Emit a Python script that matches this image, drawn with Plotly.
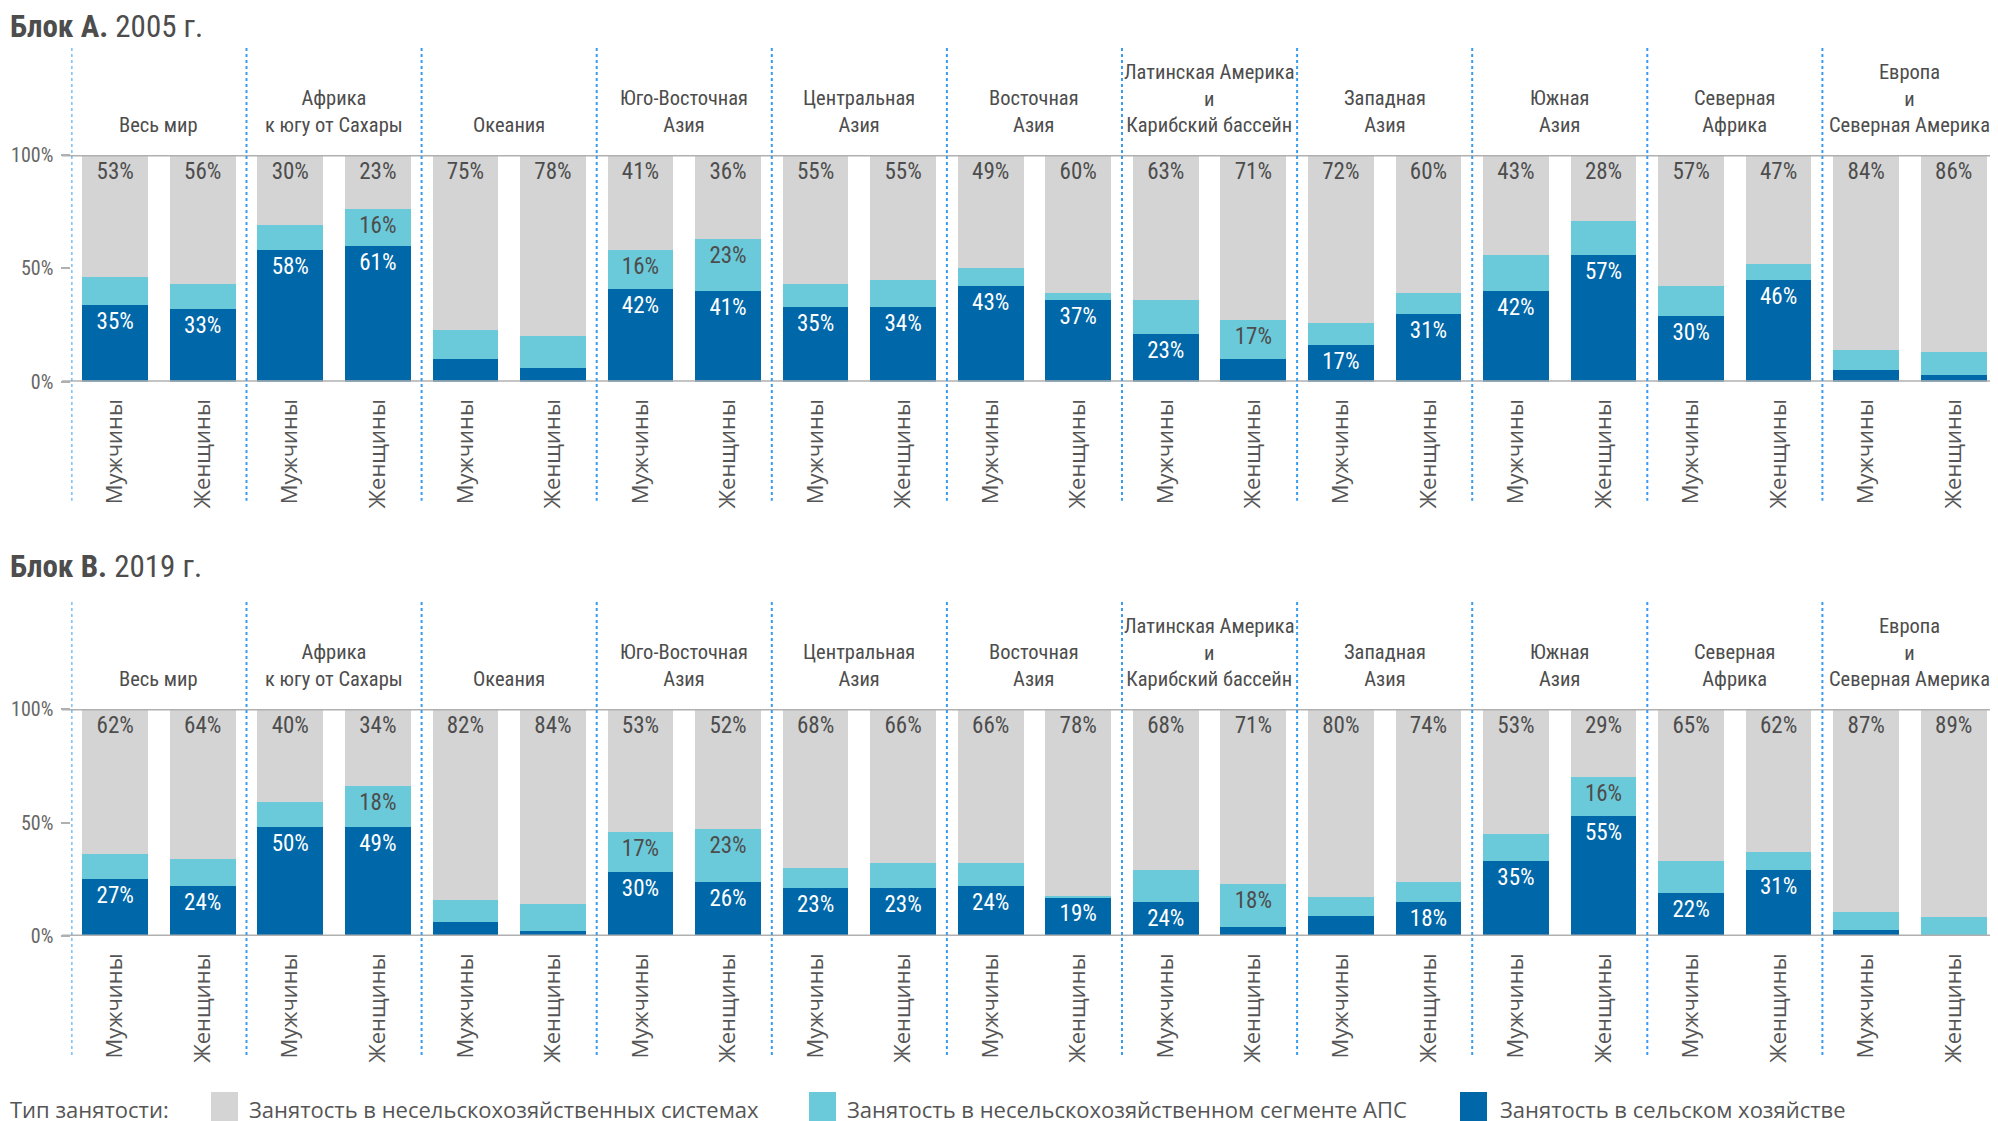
import plotly.graph_objects as go

# ---------------- data ----------------
regions = ["Весь мир", "Африка\nк югу от Сахары", "Океания", "Юго-Восточная\nАзия",
           "Центральная\nАзия", "Восточная\nАзия", "Латинская Америка\nи\nКарибский бассейн",
           "Западная\nАзия", "Южная\nАзия", "Северная\nАфрика", "Европа\nи\nСеверная Америка"]
sexes = ["Мужчины", "Женщины"]

series_names = ["Занятость в несельскохозяйственных системах",
                "Занятость в несельскохозяйственном сегменте АПС",
                "Занятость в сельском хозяйстве"]

# Block A, 2005 (bar heights, %; order: region x [men, women])
agri_2005 = [34, 32, 58, 60, 10, 6, 41, 40, 33, 33, 42, 36, 21, 10, 16, 30, 40, 56, 29, 45, 5, 3]
afs_2005 = [12, 11, 11, 16, 13, 14, 17, 23, 10, 12, 8, 3, 15, 17, 10, 9, 16, 15, 13, 7, 9, 10]
nonagri_2005 = [54, 57, 31, 24, 77, 80, 42, 37, 57, 55, 50, 61, 64, 73, 74, 61, 44, 29, 58, 48, 86, 87]
# printed labels, 2005 (None = not printed)
lab_nonagri_2005 = [53, 56, 30, 23, 75, 78, 41, 36, 55, 55, 49, 60, 63, 71, 72, 60, 43, 28, 57, 47, 84, 86]
lab_agri_2005 = [35, 33, 58, 61, None, None, 42, 41, 35, 34, 43, 37, 23, None, 17, 31, 42, 57, 30, 46, None, None]
lab_afs_2005 = [None, None, None, 16, None, None, 16, 23, None, None, None, None, None, 17,
                None, None, None, None, None, None, None, None]

# Block B, 2019
agri_2019 = [25, 22, 48, 48, 6, 2, 28, 24, 21, 21, 22, 17, 15, 4, 9, 15, 33, 53, 19, 29, 2.5, 0.5]
afs_2019 = [11, 12, 11, 18, 10, 12, 18, 23, 9, 11, 10, 0.5, 14, 19, 8, 9, 12, 17, 14, 8, 8, 8]
nonagri_2019 = [64, 66, 41, 34, 84, 86, 54, 53, 70, 68, 68, 82.5, 71, 77, 83, 76, 55, 30, 67, 63, 89.5, 91.5]
lab_nonagri_2019 = [62, 64, 40, 34, 82, 84, 53, 52, 68, 66, 66, 78, 68, 71, 80, 74, 53, 29, 65, 62, 87, 89]
lab_agri_2019 = [27, 24, 50, 49, None, None, 30, 26, 23, 23, 24, 19, 24, None, None, 18, 35, 55, 22, 31, None, None]
lab_afs_2019 = [None, None, None, 18, None, None, 17, 23, None, None, None, None, None, 18,
                None, None, None, 16, None, None, None, None]

y_ticks = [0, 50, 100]
y_ticktext = ["0%", "50%", "100%"]

# ---------------- style ----------------
W, H = 1998, 1121
OFF = 8  # page body margin in the browser
C_GREY, C_CYAN, C_BLUE = "#d4d4d4", "#6bcad9", "#0067a9"
C_TEXT = "#4d4d4d"
C_SEP = "#3a9cf0"
C_AXIS = "#b0b0b0"
COND = "Roboto Condensed, Noto Sans Condensed, Liberation Sans Narrow, DejaVu Sans Condensed, sans-serif"
LIGHT = "Open Sans, Noto Sans, sans-serif"

n = len(regions) * len(sexes)
xs = list(range(n))
tick_sex = [s for _ in regions for s in sexes]


def px_x(p):
    return (p - OFF) / W


def px_y(p):
    return 1 - (p - OFF) / H


x_dom = [px_x(71.4), px_x(1997.5)]
panels = [
    dict(agri=agri_2005, afs=afs_2005, non=nonagri_2005,
         la=lab_agri_2005, lf=lab_afs_2005, ln=lab_nonagri_2005,
         top=155, zero=381.7, title="<b>Блок А.</b> 2005 г.", title_y=26, xa="x", ya="y"),
    dict(agri=agri_2019, afs=afs_2019, non=nonagri_2019,
         la=lab_agri_2019, lf=lab_afs_2019, ln=lab_nonagri_2019,
         top=709, zero=936, title="<b>Блок В.</b> 2019 г.", title_y=566, xa="x2", ya="y2"),
]


def fmt(lst):
    return ["" if v is None else f"{v}%" for v in lst]


fig = go.Figure()
shapes = []
annotations = []

for p in panels:
    for vals, labs, col, tcol, name in [
        (p["agri"], p["la"], C_BLUE, "white", series_names[2]),
        (p["afs"], p["lf"], C_CYAN, C_TEXT, series_names[1]),
        (p["non"], p["ln"], C_GREY, C_TEXT, series_names[0]),
    ]:
        fig.add_trace(go.Bar(
            x=xs, y=vals, name=name, marker=dict(color=col, line=dict(width=0)),
            width=0.75, text=fmt(labs), textposition="inside", insidetextanchor="end",
            textangle=0, textfont=dict(family=COND, size=23, color=tcol),
            xaxis=p["xa"], yaxis=p["ya"], showlegend=False, hoverinfo="skip",
        ))
    # horizontal axis lines at 0% and 100%
    for yv in (0, 100):
        shapes.append(dict(type="line", xref="paper", yref=p["ya"], x0=px_x(62), x1=1,
                           y0=yv, y1=yv, line=dict(color=C_AXIS, width=3), layer="above"))
    # dotted separators
    sep_top = p["top"] - 107
    sep_bot = p["zero"] + 119
    for g in range(len(regions) + 1):
        xv = 2 * g - 0.5
        shapes.append(dict(type="line", xref=p["xa"], yref="paper", x0=xv, x1=xv,
                           y0=px_y(sep_top), y1=px_y(sep_bot),
                           line=dict(color=C_SEP, width=2, dash="dot"), layer="above"))
    # region headers
    for g, r in enumerate(regions):
        annotations.append(dict(
            x=2 * g + 0.5, xref=p["xa"], y=px_y(p["top"] - 16), yref="paper",
            text=r.replace("\n", "<br>"), showarrow=False, xanchor="center", yanchor="bottom",
            font=dict(family=COND, size=20.5, color=C_TEXT), align="center"))
    # panel title
    annotations.append(dict(x=px_x(OFF), xref="paper", y=px_y(p["title_y"]), yref="paper",
                            text=p["title"], showarrow=False, xanchor="left", yanchor="middle",
                            font=dict(family=COND, size=31, color=C_TEXT)))

common_x = dict(range=[-0.5, n - 0.5], domain=x_dom, tickmode="array", tickvals=xs,
                ticktext=tick_sex, tickangle=-90, showgrid=False, zeroline=False,
                showline=False, ticks="", ticklabelstandoff=12,
                tickfont=dict(family=LIGHT, size=22, color="#555555"), fixedrange=True)
common_y = dict(range=[0, 100], tickmode="array", tickvals=y_ticks, ticktext=y_ticktext,
                showgrid=False, zeroline=False, showline=False, ticks="outside", ticklen=9,
                tickwidth=2, tickcolor=C_AXIS, ticklabelstandoff=4,
                tickfont=dict(family=COND, size=20, color="#666666"), fixedrange=True)

fig.update_layout(
    width=W, height=H, autosize=False,
    margin=dict(l=0, r=0, t=0, b=0, pad=0, autoexpand=False),
    paper_bgcolor="white", plot_bgcolor="rgba(0,0,0,0)",
    barmode="stack", bargap=0.25,
    uniformtext=dict(mode="show", minsize=22),
    xaxis=dict(anchor="y", **common_x),
    yaxis=dict(anchor="x", domain=[px_y(panels[0]["zero"]), px_y(panels[0]["top"])], **common_y),
    xaxis2=dict(anchor="y2", **common_x),
    yaxis2=dict(anchor="x2", domain=[px_y(panels[1]["zero"]), px_y(panels[1]["top"])], **common_y),
    showlegend=False,
)

# manual legend
legend_items = [(series_names[0], C_GREY, 211, 247),
                (series_names[1], C_CYAN, 809, 845),
                (series_names[2], C_BLUE, 1460, 1498)]
annotations.append(dict(x=px_x(OFF), xref="paper", y=px_y(1109), yref="paper",
                        text="Тип занятости:", showarrow=False, xanchor="left", yanchor="middle",
                        font=dict(family=LIGHT, size=22, color="#555555")))
for name, col, sx, tx in legend_items:
    shapes.append(dict(type="rect", xref="paper", yref="paper", x0=px_x(sx), x1=px_x(sx + 27),
                       y0=px_y(1092), y1=-0.02, fillcolor=col, line=dict(width=0)))
    annotations.append(dict(x=px_x(tx), xref="paper", y=px_y(1109), yref="paper",
                            text=name, showarrow=False, xanchor="left", yanchor="middle",
                            font=dict(family=LIGHT, size=22, color="#555555")))

fig.update_layout(shapes=shapes, annotations=annotations)
fig.write_html("out.html")
